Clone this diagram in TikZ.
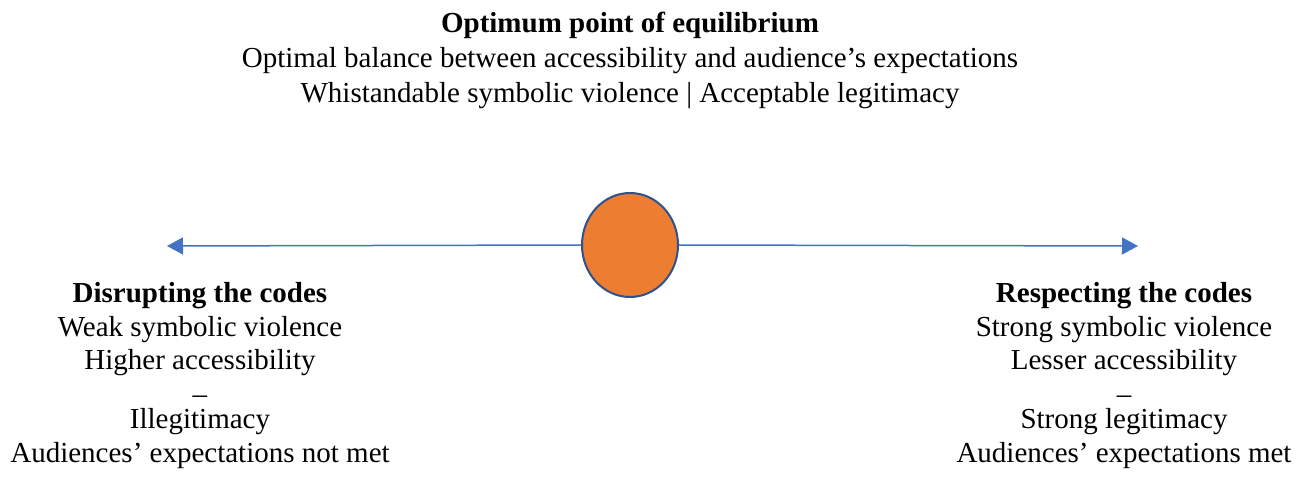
\documentclass[tikz,border=0pt]{standalone}
\usepackage{fontspec}
\setmainfont{Liberation Serif}
\usetikzlibrary{arrows.meta,shapes.geometric}
\definecolor{axisblue}{HTML}{4472C4}
\definecolor{pointorange}{HTML}{ED7D31}
\definecolor{rimblue}{HTML}{2F528F}

\begin{document}
\begin{tikzpicture}[x=1pt, y=-1pt,
    txt/.style={align=center, anchor=base, inner sep=0pt, font=\fontsize{29}{33.5}\selectfont},
    axis/.style={draw=axisblue, line width=1.5pt, -{Triangle[length=16pt, width=17pt]}}]
    \useasboundingbox (0,0) rectangle (1307,478);
    % equilibrium point
    \node[ellipse, draw=rimblue, line width=2pt, fill=pointorange, minimum width=96pt, minimum height=104pt, inner sep=0pt] (eq) at (630,245) {};
    \coordinate (lefttip) at (167,246);
    \coordinate (righttip) at (1138,246);
    \draw[axis] (eq.west) -- (lefttip);
    \draw[axis] (eq.east) -- (righttip);
    % texts (anchored on the last baseline)
    \node[txt, font=\fontsize{29}{35}\selectfont] (top) at (630,103) {\textbf{Optimum point of equilibrium}\\Optimal balance between accessibility and audience’s expectations\\Whistandable symbolic violence | Acceptable legitimacy};
    \node[txt] (disrupt) at (200,462) {\textbf{Disrupting the codes}\\Weak symbolic violence\\Higher accessibility\\–\\[-8pt]Illegitimacy\\Audiences’ expectations not met};
    \node[txt] (respect) at (1124,462) {\textbf{Respecting the codes}\\Strong symbolic violence\\Lesser accessibility\\–\\[-8pt]Strong legitimacy\\Audiences’ expectations met};
\end{tikzpicture}
\end{document}
